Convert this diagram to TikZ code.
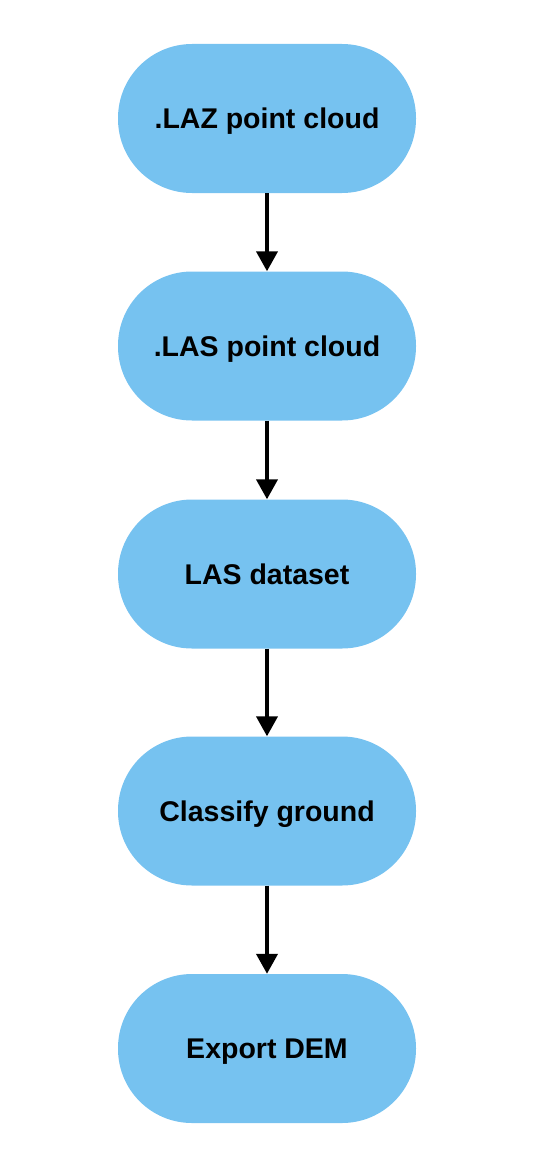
\documentclass[tikz,border=0pt]{standalone}
\usepackage{fontspec}
\setmainfont{Liberation Sans}
\usetikzlibrary{arrows.meta}
\definecolor{boxblue}{RGB}{118,194,240}
\begin{document}
\begin{tikzpicture}[x=1pt,y=-1pt,
  stadium/.style={fill=boxblue, draw=none, rounded corners=74pt, minimum width=298pt, minimum height=149pt, inner sep=0pt, text height=20.4pt, text depth=0pt, font=\fontsize{28.5}{33}\selectfont\bfseries},
  flow/.style={line width=4pt, -{Triangle[width=21pt,length=20pt]}}]
\useasboundingbox (0,0) rectangle (534,1172);
\node[stadium] (a) at (267,118.5) {.LAZ point cloud};
\node[stadium] (b) at (267,346) {.LAS point cloud};
\node[stadium] (c) at (267,574) {LAS dataset};
\node[stadium] (d) at (267,811) {Classify ground};
\node[stadium] (e) at (267,1048.5) {Export DEM};
\draw[flow] (a) -- (b);
\draw[flow] (b) -- (c);
\draw[flow] (c) -- (d);
\draw[flow] (d) -- (e);
\end{tikzpicture}
\end{document}
